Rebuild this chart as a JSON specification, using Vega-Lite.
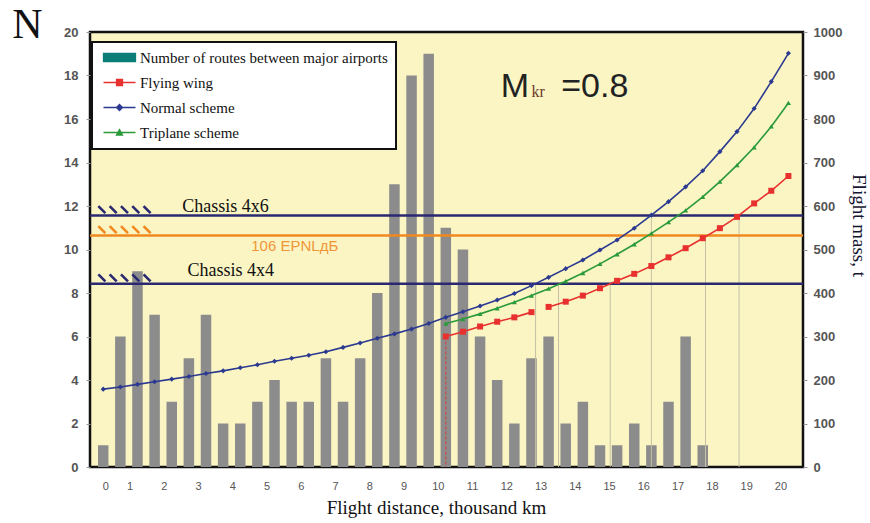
{
  "$schema": "https://vega.github.io/schema/vega-lite/v6.json",
  "width": 713,
  "height": 435,
  "autosize": {"type": "none"},
  "padding": {"left": 90, "top": 32, "right": 67, "bottom": 56},
  "background": "white",
  "config": {
    "view": {"fill": "#FAF5C3", "stroke": "#111111", "strokeWidth": 2.5},
    "axis": {"labelOverlap": false, "labelFlush": false, "labelColor": "#555555"},
    "axisX": {"labelOverlap": false, "labelFlush": false, "labelBound": false, "labelColor": "#555555"}
  },
  "datasets": {
    "routes": [
      {"km": 0, "routes": 1}, {"km": 0.5, "routes": 6}, {"km": 1, "routes": 9}, {"km": 1.5, "routes": 7},
      {"km": 2, "routes": 3}, {"km": 2.5, "routes": 5}, {"km": 3, "routes": 7}, {"km": 3.5, "routes": 2},
      {"km": 4, "routes": 2}, {"km": 4.5, "routes": 3}, {"km": 5, "routes": 4}, {"km": 5.5, "routes": 3},
      {"km": 6, "routes": 3}, {"km": 6.5, "routes": 5}, {"km": 7, "routes": 3}, {"km": 7.5, "routes": 5},
      {"km": 8, "routes": 8}, {"km": 8.5, "routes": 13}, {"km": 9, "routes": 18}, {"km": 9.5, "routes": 19},
      {"km": 10, "routes": 11}, {"km": 10.5, "routes": 10}, {"km": 11, "routes": 6}, {"km": 11.5, "routes": 4},
      {"km": 12, "routes": 2}, {"km": 12.5, "routes": 5}, {"km": 13, "routes": 6}, {"km": 13.5, "routes": 2},
      {"km": 14, "routes": 3}, {"km": 14.5, "routes": 1}, {"km": 15, "routes": 1}, {"km": 15.5, "routes": 2},
      {"km": 16, "routes": 1}, {"km": 16.5, "routes": 3}, {"km": 17, "routes": 6}, {"km": 17.5, "routes": 1}
    ],
    "curves": [
      {"series": "Normal scheme", "seg": "n", "km": 0, "mass": 179},
      {"series": "Normal scheme", "seg": "n", "km": 0.5, "mass": 184},
      {"series": "Normal scheme", "seg": "n", "km": 1, "mass": 190},
      {"series": "Normal scheme", "seg": "n", "km": 1.5, "mass": 196},
      {"series": "Normal scheme", "seg": "n", "km": 2, "mass": 202},
      {"series": "Normal scheme", "seg": "n", "km": 2.5, "mass": 208},
      {"series": "Normal scheme", "seg": "n", "km": 3, "mass": 215},
      {"series": "Normal scheme", "seg": "n", "km": 3.5, "mass": 221},
      {"series": "Normal scheme", "seg": "n", "km": 4, "mass": 228},
      {"series": "Normal scheme", "seg": "n", "km": 4.5, "mass": 235},
      {"series": "Normal scheme", "seg": "n", "km": 5, "mass": 243},
      {"series": "Normal scheme", "seg": "n", "km": 5.5, "mass": 250},
      {"series": "Normal scheme", "seg": "n", "km": 6, "mass": 257},
      {"series": "Normal scheme", "seg": "n", "km": 6.5, "mass": 265},
      {"series": "Normal scheme", "seg": "n", "km": 7, "mass": 275},
      {"series": "Normal scheme", "seg": "n", "km": 7.5, "mass": 285},
      {"series": "Normal scheme", "seg": "n", "km": 8, "mass": 296},
      {"series": "Normal scheme", "seg": "n", "km": 8.5, "mass": 306},
      {"series": "Normal scheme", "seg": "n", "km": 9, "mass": 317},
      {"series": "Normal scheme", "seg": "n", "km": 9.5, "mass": 330},
      {"series": "Normal scheme", "seg": "n", "km": 10, "mass": 344},
      {"series": "Normal scheme", "seg": "n", "km": 10.5, "mass": 357},
      {"series": "Normal scheme", "seg": "n", "km": 11, "mass": 370},
      {"series": "Normal scheme", "seg": "n", "km": 11.5, "mass": 384},
      {"series": "Normal scheme", "seg": "n", "km": 12, "mass": 399},
      {"series": "Normal scheme", "seg": "n", "km": 12.5, "mass": 417},
      {"series": "Normal scheme", "seg": "n", "km": 13, "mass": 436},
      {"series": "Normal scheme", "seg": "n", "km": 13.5, "mass": 456},
      {"series": "Normal scheme", "seg": "n", "km": 14, "mass": 476},
      {"series": "Normal scheme", "seg": "n", "km": 14.5, "mass": 499},
      {"series": "Normal scheme", "seg": "n", "km": 15, "mass": 522},
      {"series": "Normal scheme", "seg": "n", "km": 15.5, "mass": 549},
      {"series": "Normal scheme", "seg": "n", "km": 16, "mass": 579},
      {"series": "Normal scheme", "seg": "n", "km": 16.5, "mass": 610},
      {"series": "Normal scheme", "seg": "n", "km": 17, "mass": 644},
      {"series": "Normal scheme", "seg": "n", "km": 17.5, "mass": 681},
      {"series": "Normal scheme", "seg": "n", "km": 18, "mass": 725},
      {"series": "Normal scheme", "seg": "n", "km": 18.5, "mass": 771},
      {"series": "Normal scheme", "seg": "n", "km": 19, "mass": 824},
      {"series": "Normal scheme", "seg": "n", "km": 19.5, "mass": 886},
      {"series": "Normal scheme", "seg": "n", "km": 20, "mass": 951},
      {"series": "Triplane scheme", "seg": "t", "km": 10, "mass": 330},
      {"series": "Triplane scheme", "seg": "t", "km": 10.5, "mass": 340},
      {"series": "Triplane scheme", "seg": "t", "km": 11, "mass": 352},
      {"series": "Triplane scheme", "seg": "t", "km": 11.5, "mass": 365},
      {"series": "Triplane scheme", "seg": "t", "km": 12, "mass": 379},
      {"series": "Triplane scheme", "seg": "t", "km": 12.5, "mass": 394},
      {"series": "Triplane scheme", "seg": "t", "km": 13, "mass": 410},
      {"series": "Triplane scheme", "seg": "t", "km": 13.5, "mass": 427},
      {"series": "Triplane scheme", "seg": "t", "km": 14, "mass": 446},
      {"series": "Triplane scheme", "seg": "t", "km": 14.5, "mass": 467},
      {"series": "Triplane scheme", "seg": "t", "km": 15, "mass": 489},
      {"series": "Triplane scheme", "seg": "t", "km": 15.5, "mass": 512},
      {"series": "Triplane scheme", "seg": "t", "km": 16, "mass": 537},
      {"series": "Triplane scheme", "seg": "t", "km": 16.5, "mass": 563},
      {"series": "Triplane scheme", "seg": "t", "km": 17, "mass": 590},
      {"series": "Triplane scheme", "seg": "t", "km": 17.5, "mass": 621},
      {"series": "Triplane scheme", "seg": "t", "km": 18, "mass": 656},
      {"series": "Triplane scheme", "seg": "t", "km": 18.5, "mass": 694},
      {"series": "Triplane scheme", "seg": "t", "km": 19, "mass": 735},
      {"series": "Triplane scheme", "seg": "t", "km": 19.5, "mass": 783},
      {"series": "Triplane scheme", "seg": "t", "km": 20, "mass": 837},
      {"series": "Flying wing", "seg": "r1", "km": 10, "mass": 300},
      {"series": "Flying wing", "seg": "r1", "km": 10.5, "mass": 311},
      {"series": "Flying wing", "seg": "r1", "km": 11, "mass": 323},
      {"series": "Flying wing", "seg": "r1", "km": 11.5, "mass": 334},
      {"series": "Flying wing", "seg": "r1", "km": 12, "mass": 344},
      {"series": "Flying wing", "seg": "r1", "km": 12.5, "mass": 356},
      {"series": "Flying wing", "seg": "r2", "km": 13, "mass": 368},
      {"series": "Flying wing", "seg": "r2", "km": 13.5, "mass": 380},
      {"series": "Flying wing", "seg": "r2", "km": 14, "mass": 394},
      {"series": "Flying wing", "seg": "r2", "km": 14.5, "mass": 411},
      {"series": "Flying wing", "seg": "r2", "km": 15, "mass": 428},
      {"series": "Flying wing", "seg": "r2", "km": 15.5, "mass": 444},
      {"series": "Flying wing", "seg": "r2", "km": 16, "mass": 462},
      {"series": "Flying wing", "seg": "r2", "km": 16.5, "mass": 482},
      {"series": "Flying wing", "seg": "r2", "km": 17, "mass": 503},
      {"series": "Flying wing", "seg": "r2", "km": 17.5, "mass": 526},
      {"series": "Flying wing", "seg": "r2", "km": 18, "mass": 549},
      {"series": "Flying wing", "seg": "r2", "km": 18.5, "mass": 575},
      {"series": "Flying wing", "seg": "r2", "km": 19, "mass": 606},
      {"series": "Flying wing", "seg": "r2", "km": 19.5, "mass": 635},
      {"series": "Flying wing", "seg": "r2", "km": 20, "mass": 669}
    ],
    "levels": [
      {"name": "Chassis 4x6", "mass": 578},
      {"name": "106 EPNLдБ", "mass": 532},
      {"name": "Chassis 4x4", "mass": 421}
    ],
    "hatch": [
      {"mass": 578, "km": -0.04}, {"mass": 578, "km": 0.29}, {"mass": 578, "km": 0.62}, {"mass": 578, "km": 0.95}, {"mass": 578, "km": 1.28},
      {"mass": 532, "km": -0.04}, {"mass": 532, "km": 0.29}, {"mass": 532, "km": 0.62}, {"mass": 532, "km": 0.95}, {"mass": 532, "km": 1.28},
      {"mass": 421, "km": -0.04}, {"mass": 421, "km": 0.29}, {"mass": 421, "km": 0.62}, {"mass": 421, "km": 0.95}, {"mass": 421, "km": 1.28}
    ],
    "drops": [
      {"km": 12.62, "mass": 421}, {"km": 13.29, "mass": 421}, {"km": 14.8, "mass": 421},
      {"km": 16.0, "mass": 578}, {"km": 17.58, "mass": 532}, {"km": 18.56, "mass": 578}
    ]
  },
  "layer": [
    {
      "data": {"name": "routes"},
      "mark": {"type": "bar", "width": 10.5, "color": "#8C8C8C"},
      "encoding": {
        "x": {
          "field": "km", "type": "quantitative",
          "scale": {"domain": [-0.24, 20.28], "nice": false, "zero": false},
          "axis": {
            "title": "Flight distance, thousand km",
            "values": [0,1,2,3,4,5,6,7,8,9,10,11,12,13,14,15,16,17,18,19,20],
            "tickCount": 21,
            "format": "d", "ticks": false, "domain": false, "grid": false,
            "labelOverlap": false, "labelFlush": false,
            "labelPadding": 13, "labelFont": "Liberation Sans", "labelFontSize": 11, "labelColor": "#555555",
            "labelOffset": {"condition": {"test": "datum.value == 0", "value": 2}, "value": -8},
            "titleFont": "Liberation Serif", "titleFontSize": 19, "titleFontWeight": "normal", "titleColor": "#111111",
            "titleX": 346, "titleY": 46, "titleAlign": "center", "titleBaseline": "alphabetic"
          }
        },
        "y": {
          "field": "routes", "type": "quantitative",
          "scale": {"domain": [0, 20], "nice": false},
          "axis": {
            "title": "N", "titleAngle": 0, "titleX": -63, "titleY": -8, "titleAlign": "center", "titleBaseline": "middle",
            "titleFont": "Liberation Serif", "titleFontSize": 42, "titleFontWeight": "normal", "titleColor": "#111111",
            "values": [0,2,4,6,8,10,12,14,16,18,20], "domain": false, "grid": false, "labelOverlap": false,
            "tickSize": 4, "tickColor": "#999999", "labelPadding": 8,
            "labelFont": "Liberation Sans", "labelFontWeight": "bold", "labelFontSize": 13, "labelColor": "#555555"
          }
        }
      }
    },
    {
      "layer": [
        {
          "data": {"name": "drops"},
          "mark": {"type": "rule", "color": "#C4C1A4", "strokeWidth": 1},
          "encoding": {
            "x": {"field": "km", "type": "quantitative"},
            "y": {
              "field": "mass", "type": "quantitative",
              "scale": {"domain": [0, 1000], "nice": false},
              "axis": {
                "orient": "right", "title": "Flight mass, t", "format": "d",
                "titleAngle": 90, "titleX": 55, "titleY": 193, "titleAlign": "center", "titleBaseline": "middle",
                "titleFont": "Liberation Serif", "titleFontSize": 19, "titleFontWeight": "normal", "titleColor": "#151530",
                "values": [0,100,200,300,400,500,600,700,800,900,1000], "domain": false, "grid": false, "labelOverlap": false,
                "tickSize": 4, "tickColor": "#999999", "labelPadding": 6,
                "labelFont": "Liberation Sans", "labelFontWeight": "bold", "labelFontSize": 13, "labelColor": "#555555"
              }
            },
            "y2": {"datum": 0}
          }
        },
        {
          "data": {"name": "levels"},
          "mark": {"type": "rule", "strokeWidth": 2.5},
          "encoding": {
            "y": {"field": "mass", "type": "quantitative"},
            "color": {"condition": {"test": "datum.mass == 532", "value": "#F0891F"}, "value": "#2A2870"}
          }
        },
        {
          "data": {"name": "hatch"},
          "mark": {"type": "point", "shape": "M-1,-1L1,1", "size": 49, "filled": false, "strokeWidth": 2.6, "opacity": 1, "strokeCap": "butt"},
          "encoding": {
            "x": {"field": "km", "type": "quantitative"},
            "y": {"field": "mass", "type": "quantitative"},
            "yOffset": {"value": -6},
            "color": {"condition": {"test": "datum.mass == 532", "value": "#F0891F"}, "value": "#2A2870"}
          }
        },
        {
          "data": {"values": [{"km": 10, "mass": 300}]},
          "mark": {"type": "rule", "color": "#D8454A", "strokeWidth": 1.2, "strokeDash": [3, 2]},
          "encoding": {
            "x": {"field": "km", "type": "quantitative"},
            "y": {"field": "mass", "type": "quantitative"},
            "y2": {"datum": 0}
          }
        },
        {
          "data": {"name": "curves"},
          "mark": {"type": "line", "strokeWidth": 1.6},
          "encoding": {
            "x": {"field": "km", "type": "quantitative"},
            "y": {"field": "mass", "type": "quantitative"},
            "detail": {"field": "seg"},
            "color": {
              "field": "series", "type": "nominal",
              "scale": {
                "domain": ["Number of routes between major airports", "Flying wing", "Normal scheme", "Triplane scheme"],
                "range": ["#0B7E78", "#E8312F", "#2B3990", "#2A9A3A"]
              },
              "legend": {
                "orient": "none", "legendX": 2, "legendY": 10, "title": null,
                "fillColor": "white", "strokeColor": "#111111", "padding": 8,
                "symbolSize": 100, "symbolOffset": 12, "labelOffset": 13, "rowPadding": 9,
                "labelFont": "Liberation Serif", "labelFontSize": 15, "labelColor": "#111111", "labelLimit": 400,
                "symbolStrokeWidth": 1.5,
                "encode": {
                  "legend": {"update": {"strokeWidth": {"value": 2}}},
                  "symbols": {
                    "update": {
                      "fill": {"scale": "color", "field": "value"},
                      "stroke": {"scale": "color", "field": "value"},
                      "strokeWidth": {"value": 1.3},
                      "opacity": {"value": 1},
                      "shape": {"signal": "datum.value === 'Number of routes between major airports' ? 'M-3.2,-0.8H3.2V0.8H-3.2Z' : datum.value === 'Flying wing' ? 'M-3.2,0H3.2M-0.6,-0.6H0.6V0.6H-0.6Z' : datum.value === 'Normal scheme' ? 'M-3.2,0H3.2M0,-0.6L0.6,0L0,0.6L-0.6,0Z' : 'M-3.2,0H3.2M0,-0.6L0.6,0.5H-0.6Z'"}
                    }
                  }
                }
              }
            }
          }
        },
        {
          "data": {"name": "curves"},
          "mark": {"type": "point", "filled": true, "opacity": 1},
          "encoding": {
            "x": {"field": "km", "type": "quantitative"},
            "y": {"field": "mass", "type": "quantitative"},
            "color": {"field": "series", "type": "nominal", "legend": null},
            "shape": {
              "condition": [
                {"test": "datum.series == 'Flying wing'", "value": "square"},
                {"test": "datum.series == 'Triplane scheme'", "value": "triangle-up"}
              ],
              "value": "diamond"
            },
            "size": {"condition": {"test": "datum.series == 'Flying wing'", "value": 36}, "value": 26}
          }
        },
        {
          "data": {"values": [{"text": "Chassis 4x6", "km": 3.57, "mass": 587}, {"text": "Chassis 4x4", "km": 3.72, "mass": 438}]},
          "mark": {"type": "text", "font": "Liberation Serif", "fontSize": 18, "color": "#111111", "align": "center", "baseline": "alphabetic"},
          "encoding": {
            "x": {"field": "km", "type": "quantitative"},
            "y": {"field": "mass", "type": "quantitative"},
            "text": {"field": "text"}
          }
        },
        {
          "data": {"values": [{"text": "106 EPNLдБ", "km": 5.59, "mass": 497}]},
          "mark": {"type": "text", "font": "Liberation Sans", "fontSize": 15, "color": "#F0963A", "align": "center", "baseline": "alphabetic"},
          "encoding": {
            "x": {"field": "km", "type": "quantitative"},
            "y": {"field": "mass", "type": "quantitative"},
            "text": {"field": "text"}
          }
        },
        {
          "data": {"values": [{"text": "M", "km": 11.6, "mass": 851}, {"text": "=0.8", "km": 13.37, "mass": 851}]},
          "mark": {"type": "text", "font": "Liberation Sans", "fontSize": 34, "color": "#222222", "align": "left", "baseline": "alphabetic"},
          "encoding": {
            "x": {"field": "km", "type": "quantitative"},
            "y": {"field": "mass", "type": "quantitative"},
            "text": {"field": "text"}
          }
        },
        {
          "data": {"values": [{"text": "kr", "km": 12.5, "mass": 851}]},
          "mark": {"type": "text", "font": "Liberation Serif", "fontSize": 16, "color": "#6B3A2A", "align": "left", "baseline": "alphabetic"},
          "encoding": {
            "x": {"field": "km", "type": "quantitative"},
            "y": {"field": "mass", "type": "quantitative"},
            "text": {"field": "text"}
          }
        }
      ]
    }
  ],
  "resolve": {"scale": {"y": "independent"}, "axis": {"y": "independent"}}
}
